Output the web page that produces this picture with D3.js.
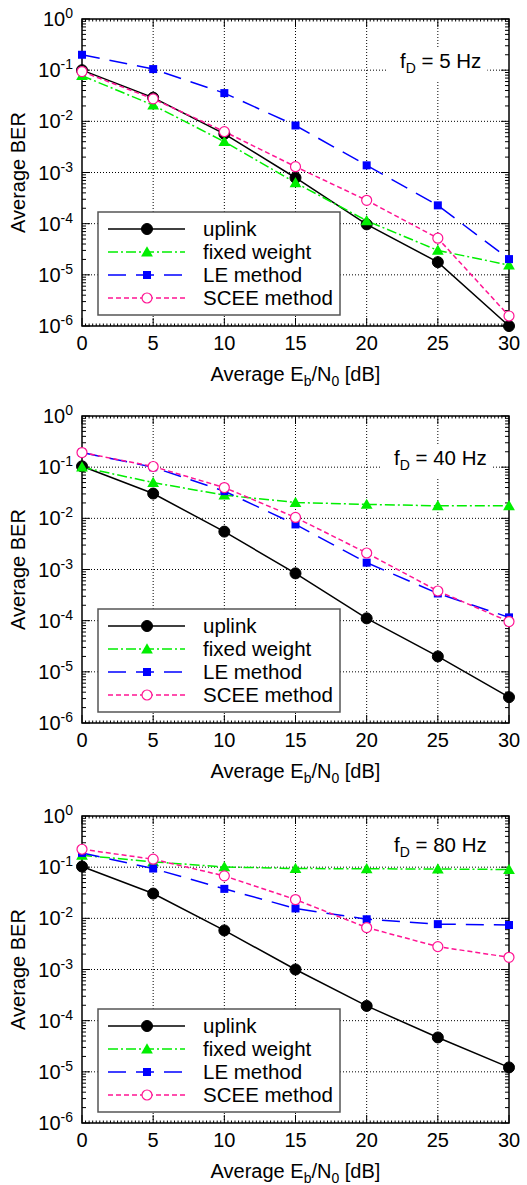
<!DOCTYPE html>
<html>
<head>
<meta charset="utf-8">
<script src="https://cdn.jsdelivr.net/npm/d3@7"></script>
<style>
  body { margin: 0; background: #fff; }
  svg { display: block; font-family: "Liberation Sans", Arial, sans-serif; }
</style>
</head>
<body>
<div id="chart"></div>
<script>
// x values (Eb/N0 in dB)
const ebn0 = [0, 5, 10, 15, 20, 25, 30];
const xTicks = [0, 5, 10, 15, 20, 25, 30];
const yExponents = [0, -1, -2, -3, -4, -5, -6];
const seriesNames = ["uplink", "fixed weight", "LE method", "SCEE method"];
const dopplerLabels = ["5", "40", "80"];

// fD = 5 Hz
const uplink5 = [0.1, 0.029, 0.0057, 7.9e-4, 9.7e-5, 1.77e-5, 1.0e-6];
const fixed5  = [0.078, 0.0207, 0.0040, 6.3e-4, 1.14e-4, 3.0e-5, 1.55e-5];
const le5     = [0.20, 0.105, 0.0356, 0.0083, 1.38e-3, 2.28e-4, 2.03e-5];
const scee5   = [0.094, 0.0275, 0.0063, 1.3e-3, 2.86e-4, 5.2e-5, 1.57e-6];

// fD = 40 Hz
const uplink40 = [0.104, 0.0305, 0.0055, 8.4e-4, 1.11e-4, 2.0e-5, 3.2e-6];
const fixed40  = [0.10, 0.050, 0.0284, 0.0204, 0.0187, 0.0176, 0.0176];
const le40     = [0.193, 0.0997, 0.034, 0.0076, 1.36e-3, 3.4e-4, 1.16e-4];
const scee40   = [0.193, 0.103, 0.040, 0.0104, 2.1e-3, 3.8e-4, 9.6e-5];

// fD = 80 Hz
const uplink80 = [0.103, 0.0305, 0.0058, 1.0e-3, 1.94e-4, 4.7e-5, 1.22e-5];
const fixed80  = [0.171, 0.127, 0.101, 0.094, 0.093, 0.092, 0.090];
const le80     = [0.19, 0.094, 0.0377, 0.0156, 0.0096, 0.0077, 0.0074];
const scee80   = [0.224, 0.143, 0.0676, 0.0233, 0.0066, 2.8e-3, 1.73e-3];

const panelData = [
  [uplink5, fixed5, le5, scee5],
  [uplink40, fixed40, le40, scee40],
  [uplink80, fixed80, le80, scee80]
];

const styles = [
  { color: "#000000", dash: null, marker: "circle", fill: true },
  { color: "#00ee00", dash: "10,3,2,3", marker: "triangle", fill: true },
  { color: "#0000ff", dash: "18,10", marker: "square", fill: true },
  { color: "#ff1493", dash: "5,3", marker: "circle", fill: false }
];

const W = 527, H = 1185;
const panelTops = [19, 416, 816];
const plotH = 307;
const x0 = 82, x1 = 509;

const svg = d3.select("#chart").append("svg")
    .attr("width", W)
    .attr("height", H);

const x = d3.scaleLinear().domain([0, 30]).range([x0, x1]);

function drawMarker(g, type, cx, cy, st) {
  if (type === "circle") {
    g.append("circle")
      .attr("cx", cx).attr("cy", cy).attr("r", st.fill ? 5.5 : 5)
      .attr("fill", st.fill ? st.color : "#fff")
      .attr("stroke", st.color)
      .attr("stroke-width", st.fill ? 1 : 1.2);
  } else if (type === "triangle") {
    g.append("path")
      .attr("d", d3.symbol().type(d3.symbolTriangle).size(60)())
      .attr("transform", `translate(${cx},${cy + 1})`)
      .attr("fill", st.color);
  } else {
    g.append("rect")
      .attr("x", cx - 4).attr("y", cy - 4)
      .attr("width", 8).attr("height", 8)
      .attr("fill", st.color);
  }
}

function drawPanel(top, series, fd) {
  const y = d3.scaleLog().domain([1e-6, 1]).range([top + plotH, top]);
  const g = svg.append("g");

  // grid
  const grid = g.append("g")
      .attr("stroke", "#000")
      .attr("stroke-width", 1)
      .attr("stroke-dasharray", "1,2");
  xTicks.slice(1, -1).forEach(t => {
    grid.append("line")
      .attr("x1", x(t)).attr("x2", x(t))
      .attr("y1", top).attr("y2", top + plotH);
  });
  yExponents.slice(1, -1).forEach(e => {
    grid.append("line")
      .attr("x1", x0).attr("x2", x1)
      .attr("y1", y(Math.pow(10, e))).attr("y2", y(Math.pow(10, e)));
  });

  // annotation with white background
  const ann = g.append("text")
      .attr("x", fd === "5" ? 400 : 394)
      .attr("y", top + (fd === "80" ? 36 : 49))
      .attr("font-size", 20.5)
      .attr("fill", "#000");
  ann.append("tspan").text("f");
  ann.append("tspan").attr("font-size", 14).attr("dy", 5).text("D");
  ann.append("tspan").attr("dy", -5).text(` = ${fd} Hz`);
  const bb = ann.node().getBBox();
  g.insert("rect", "text")
      .attr("x", bb.x - 14).attr("y", bb.y - 2)
      .attr("width", bb.width + 20).attr("height", bb.height + 6)
      .attr("fill", "#fff");

  // ticks
  const ticks = g.append("g").attr("stroke", "#000").attr("stroke-width", 1);
  d3.range(0, 30.001, 0.25).forEach(t => {
    if (t % 5 === 0) return;
    ticks.append("line").attr("x1", x(t)).attr("x2", x(t))
      .attr("y1", top + plotH).attr("y2", top + plotH - 2.5);
    ticks.append("line").attr("x1", x(t)).attr("x2", x(t))
      .attr("y1", top).attr("y2", top + 2.5);
  });
  xTicks.forEach(t => {
    ticks.append("line").attr("x1", x(t)).attr("x2", x(t))
      .attr("y1", top + plotH).attr("y2", top + plotH - 8);
    ticks.append("line").attr("x1", x(t)).attr("x2", x(t))
      .attr("y1", top).attr("y2", top + 8);
  });
  for (let e = -6; e <= 0; e++) {
    const yy = y(Math.pow(10, e));
    ticks.append("line").attr("x1", x0).attr("x2", x0 + 8).attr("y1", yy).attr("y2", yy);
    ticks.append("line").attr("x1", x1).attr("x2", x1 - 8).attr("y1", yy).attr("y2", yy);
    if (e === 0) continue;
    for (let k = 2; k <= 9; k++) {
      const ym = y(k * Math.pow(10, e));
      ticks.append("line").attr("x1", x0).attr("x2", x0 + 4).attr("y1", ym).attr("y2", ym);
      ticks.append("line").attr("x1", x1).attr("x2", x1 - 4).attr("y1", ym).attr("y2", ym);
    }
  }

  // frame
  g.append("rect")
      .attr("x", x0).attr("y", top)
      .attr("width", x1 - x0).attr("height", plotH)
      .attr("fill", "none")
      .attr("stroke", "#000")
      .attr("stroke-width", 1.5);

  // series
  const line = d3.line().x((d, i) => x(ebn0[i])).y(d => y(d));
  series.forEach((vals, si) => {
    const st = styles[si];
    g.append("path")
      .datum(vals)
      .attr("d", line)
      .attr("fill", "none")
      .attr("stroke", st.color)
      .attr("stroke-width", 1.5)
      .attr("stroke-dasharray", st.dash);
  });
  series.forEach((vals, si) => {
    const mg = g.append("g");
    vals.forEach((v, i) => drawMarker(mg, styles[si].marker, x(ebn0[i]), y(v), styles[si]));
  });

  // tick labels
  xTicks.forEach(t => {
    g.append("text")
      .attr("x", x(t)).attr("y", top + 331)
      .attr("text-anchor", "middle")
      .attr("font-size", 20)
      .text(t);
  });
  yExponents.forEach(e => {
    const tl = g.append("text")
      .attr("x", 73).attr("y", y(Math.pow(10, e)) + 7)
      .attr("text-anchor", "end")
      .attr("font-size", 20);
    tl.append("tspan").text("10");
    tl.append("tspan").attr("font-size", 14).attr("dy", -8).text(e);
  });

  // axis titles
  g.append("text")
      .attr("transform", `translate(25,${top + plotH / 2}) rotate(-90)`)
      .attr("text-anchor", "middle")
      .attr("font-size", 20)
      .text("Average BER");
  const xt = g.append("text")
      .attr("x", (x0 + x1) / 2).attr("y", top + 362)
      .attr("text-anchor", "middle")
      .attr("font-size", 20);
  xt.append("tspan").text("Average E");
  xt.append("tspan").attr("font-size", 14).attr("dy", 5).text("b");
  xt.append("tspan").attr("dy", -5).text("/N");
  xt.append("tspan").attr("font-size", 14).attr("dy", 5).text("0");
  xt.append("tspan").attr("dy", -5).text(" [dB]");

  // legend
  const lg = g.append("g");
  lg.append("rect")
      .attr("x", 98).attr("y", top + 193)
      .attr("width", 242).attr("height", 103)
      .attr("fill", "#fff")
      .attr("stroke", "#555")
      .attr("stroke-width", 1.5);
  seriesNames.forEach((name, si) => {
    const st = styles[si];
    const ry = top + 210 + si * 23;
    lg.append("line")
      .attr("x1", 108).attr("x2", 185)
      .attr("y1", ry).attr("y2", ry)
      .attr("stroke", st.color)
      .attr("stroke-width", 1.5)
      .attr("stroke-dasharray", st.dash);
    drawMarker(lg, st.marker, 147, ry, st);
    lg.append("text")
      .attr("x", 203).attr("y", ry + 7)
      .attr("font-size", 20.5)
      .text(name);
  });
}

panelTops.forEach((top, i) => drawPanel(top, panelData[i], dopplerLabels[i]));
</script>
</body>
</html>
